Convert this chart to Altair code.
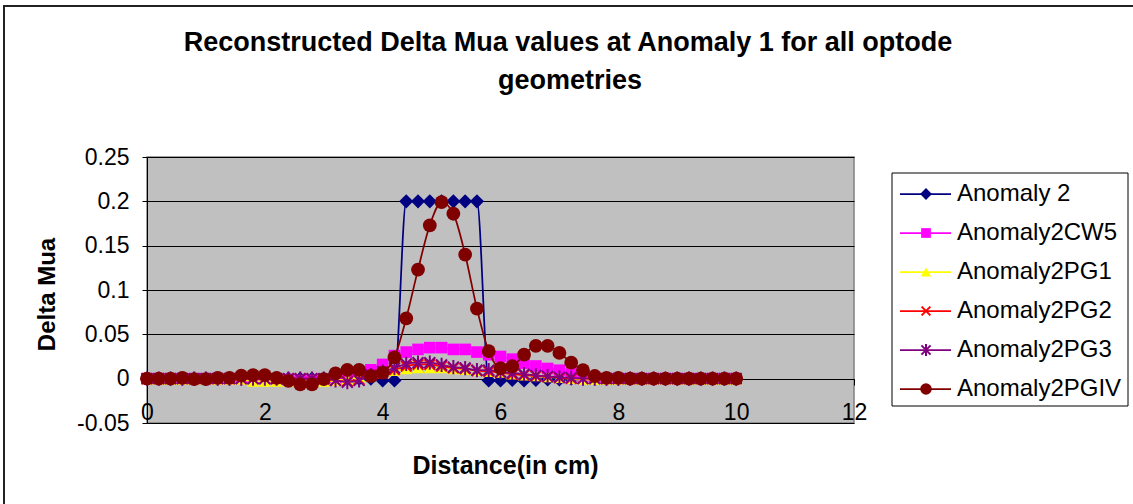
import altair as alt
import pandas as pd

FONT = "Liberation Sans"

distance = [0.0, 0.2, 0.4, 0.6, 0.8, 1.0, 1.2, 1.4, 1.6, 1.8,
            2.0, 2.2, 2.4, 2.6, 2.8, 3.0, 3.2, 3.4, 3.6, 3.8,
            4.0, 4.2, 4.4, 4.6, 4.8, 5.0, 5.2, 5.4, 5.6, 5.8,
            6.0, 6.2, 6.4, 6.6, 6.8, 7.0, 7.2, 7.4, 7.6, 7.8,
            8.0, 8.2, 8.4, 8.6, 8.8, 9.0, 9.2, 9.4, 9.6, 9.8, 10.0]

anomaly_2 = [0, 0, 0, 0, 0, 0, 0, 0, 0, 0,
             0, 0, 0, 0, 0, 0, 0, 0, 0, 0,
             -0.002, -0.002, 0.2, 0.2, 0.2, 0.2, 0.2, 0.2, 0.2, -0.002,
             -0.002, -0.0015, -0.002, -0.0015, -0.001, -0.001, 0, 0, 0, 0,
             0, 0, 0, 0, 0, 0, 0, 0, 0, 0, 0]

anomaly2_cw5 = [0, 0, 0, 0, 0, 0, 0, 0, 0, 0,
                0, -0.001, -0.001, -0.002, -0.002, -0.001, 0.001, 0.003, 0.006, 0.010,
                0.016, 0.026, 0.030, 0.033, 0.035, 0.035, 0.033, 0.033, 0.030, 0.027,
                0.025, 0.022, 0.0175, 0.0143, 0.0115, 0.0095, 0.006, 0.003, 0.001, 0,
                0, 0, 0, 0, 0, 0, 0, 0, 0, 0, 0]

anomaly2_pg1 = [-0.001, -0.001, -0.001, -0.001, -0.001, -0.001, -0.001, -0.001, -0.001, -0.003,
                -0.003, -0.003, -0.003, -0.003, -0.003, -0.003, -0.002, -0.001, 0.002, 0.005,
                0.007, 0.009, 0.011, 0.012, 0.012, 0.012, 0.011, 0.010, 0.009, 0.008,
                0.007, 0.005, 0.004, 0.003, 0.002, 0.001, 0, -0.001, -0.001, -0.001,
                -0.001, -0.001, -0.001, -0.001, -0.001, -0.001, -0.001, -0.001, -0.001, -0.001, -0.001]

anomaly2_pg2 = [0, 0, 0, 0, 0, 0, 0, 0, 0, 0,
                0, 0, 0, 0, 0, 0, -0.002, -0.003, -0.001, 0.003,
                0.006, 0.010, 0.014, 0.016, 0.016, 0.014, 0.012, 0.011, 0.009, 0.008,
                0.007, 0.005, 0.004, 0.003, 0.002, 0.001, 0, 0, 0, 0,
                0, 0, 0, 0, 0, 0, 0, 0, 0, 0, 0]

anomaly2_pg3 = [0, 0, 0, 0, 0, 0, 0, 0, 0, 0,
                0, 0, 0, 0, 0, 0, -0.002, -0.004, -0.002, 0.004,
                0.008, 0.012, 0.0166, 0.018, 0.018, 0.0155, 0.013, 0.012, 0.0095, 0.0095,
                0.0075, 0.0064, 0.005, 0.0037, 0.0026, 0.0015, 0.001, 0, 0, 0,
                0, 0, 0, 0, 0, 0, 0, 0, 0, 0, 0]

anomaly2_pgiv = [0, 0, 0, 0.001, -0.0005, -0.0005, 0.001, 0.001, 0.0035, 0.004,
                 0.004, 0.001, -0.0026, -0.0064, -0.0064, -0.0005, 0.006, 0.0098, 0.0098, 0.003,
                 0.0068, 0.024, 0.068, 0.123, 0.173, 0.199, 0.186, 0.140, 0.079, 0.031,
                 0.012, 0.014, 0.027, 0.037, 0.037, 0.029, 0.018, 0.0095, 0.003, 0.001,
                 0.001, 0, 0, 0, 0, 0, 0, 0, 0, 0, 0]

names = ["Anomaly 2", "Anomaly2CW5", "Anomaly2PG1", "Anomaly2PG2", "Anomaly2PG3", "Anomaly2PGIV"]
series_values = [anomaly_2, anomaly2_cw5, anomaly2_pg1, anomaly2_pg2, anomaly2_pg3, anomaly2_pgiv]

colors = ["#000080", "#FF00FF", "#FFFF00", "#FF0000", "#800080", "#800000"]
X_PATH = "M-1,-1L1,1M-1,1L1,-1"
STAR_PATH = "M-1,-1L1,1M-1,1L1,-1M0,-1.3L0,1.3"
shapes = ["diamond", "square", "triangle-up", X_PATH, STAR_PATH, "circle"]
filled = [True, True, True, False, False, True]
sizes = [200, 135, 150, 110, 120, 190]

rows = []
for name, vals in zip(names, series_values):
    for d, v in zip(distance, vals):
        rows.append({"series": name, "distance": d, "delta_mua": v})
df = pd.DataFrame(rows)

x_scale = alt.Scale(domain=[0, 12], nice=False, zero=False)
y_scale = alt.Scale(domain=[-0.05, 0.25], nice=False, zero=False)

x_axis = alt.Axis(
    values=[0, 2, 4, 6, 8, 10, 12], offset=-44, grid=False,
    domainColor="black", domainWidth=1, tickColor="black", tickSize=6,
    labelFont=FONT, labelFontSize=23, labelColor="black", labelPadding=16,
    labelFlush=False, labelOverlap=False,
    title="Distance(in cm)", titleFont=FONT, titleFontSize=25, titleFontWeight="bold",
    titleColor="black", titleX=358, titleY=86, titleBaseline="middle", titleAlign="center",
)
y_axis = alt.Axis(
    values=[-0.05, 0, 0.05, 0.1, 0.15, 0.2, 0.25], labelExpr="'' + datum.value",
    grid=True, gridColor="black", gridOpacity=1, gridWidth=1,
    domainColor="black", domainWidth=1, tickColor="black", tickSize=5,
    labelFont=FONT, labelFontSize=23, labelColor="black", labelPadding=13,
    labelOverlap=False, labelFlush=False,
    title="Delta Mua", titleFont=FONT, titleFontSize=24, titleFontWeight="bold",
    titleColor="black", titleX=-100, titleY=137, titleAngle=270,
    titleBaseline="middle", titleAlign="center",
)

X = alt.X("distance:Q", scale=x_scale, axis=x_axis)
Y = alt.Y("delta_mua:Q", scale=y_scale, axis=y_axis)

data_layers = []
for name, c, shp, fl, sz in zip(names, colors, shapes, filled, sizes):
    base = alt.Chart(df).transform_filter(alt.datum.series == name)
    data_layers.append(
        base.mark_line(color=c, strokeWidth=1.75, interpolate="monotone").encode(x=X, y=Y)
    )
    data_layers.append(
        base.mark_point(shape=shp, filled=fl, size=sz, color=c, opacity=1,
                        strokeWidth=2 if not fl else 0).encode(x=X, y=Y)
    )
plot = alt.layer(*data_layers)

# Legend, title and frame drawn in plot-relative pixel space
legend_df = pd.DataFrame({"series": names})
one = pd.DataFrame({"k": [0]})
LY = alt.Y("series:N", axis=None,
           scale=alt.Scale(type="point", domain=names, range=[37, 232], padding=0))

deco = [
    alt.Chart(one).mark_rect(fill="transparent", stroke="#222222", strokeWidth=2).encode(
        x=alt.value(-143), x2=alt.value(1000), y=alt.value(-151), y2=alt.value(400)),
    alt.Chart(one).mark_rect(fill="white", stroke="black", strokeWidth=1).encode(
        x=alt.value(745), x2=alt.value(981), y=alt.value(16), y2=alt.value(249)),
]
for name, c, shp, fl, sz in zip(names, colors, shapes, filled, sizes):
    lb = alt.Chart(legend_df).transform_filter(alt.datum.series == name)
    deco.append(lb.mark_rule(color=c, strokeWidth=1.75).encode(
        x=alt.value(753), x2=alt.value(804), y=LY))
    deco.append(lb.mark_point(shape=shp, filled=fl, size=sz * 0.7, color=c, opacity=1,
                              strokeWidth=2 if not fl else 0).encode(x=alt.value(779), y=LY))
deco.append(
    alt.Chart(legend_df).mark_text(align="left", baseline="middle", font=FONT,
                                   fontSize=24, color="black").encode(
        x=alt.value(810), y=LY, text="series:N")
)
deco.append(
    alt.Chart(one).mark_text(align="center", baseline="alphabetic", font=FONT, fontSize=27,
                             fontWeight="bold", color="black",
                             text="Reconstructed Delta Mua values at Anomaly 1 for all optode").encode(
        x=alt.value(421), y=alt.value(-106))
)
deco.append(
    alt.Chart(one).mark_text(align="center", baseline="alphabetic", font=FONT, fontSize=27,
                             fontWeight="bold", color="black", text="geometries").encode(
        x=alt.value(423), y=alt.value(-68))
)
decorations = alt.layer(*deco)

chart = alt.layer(plot, decorations).resolve_scale(x="independent", y="independent").properties(
    width=707, height=266,
    padding={"left": 147, "top": 157, "right": 279, "bottom": 81},
    autosize=alt.AutoSizeParams(type="none"),
    background="white",
).configure_view(fill="#C0C0C0", stroke="#808080", strokeWidth=1.5)

chart.save("out.html", embed_options={"renderer": "svg", "actions": False})
